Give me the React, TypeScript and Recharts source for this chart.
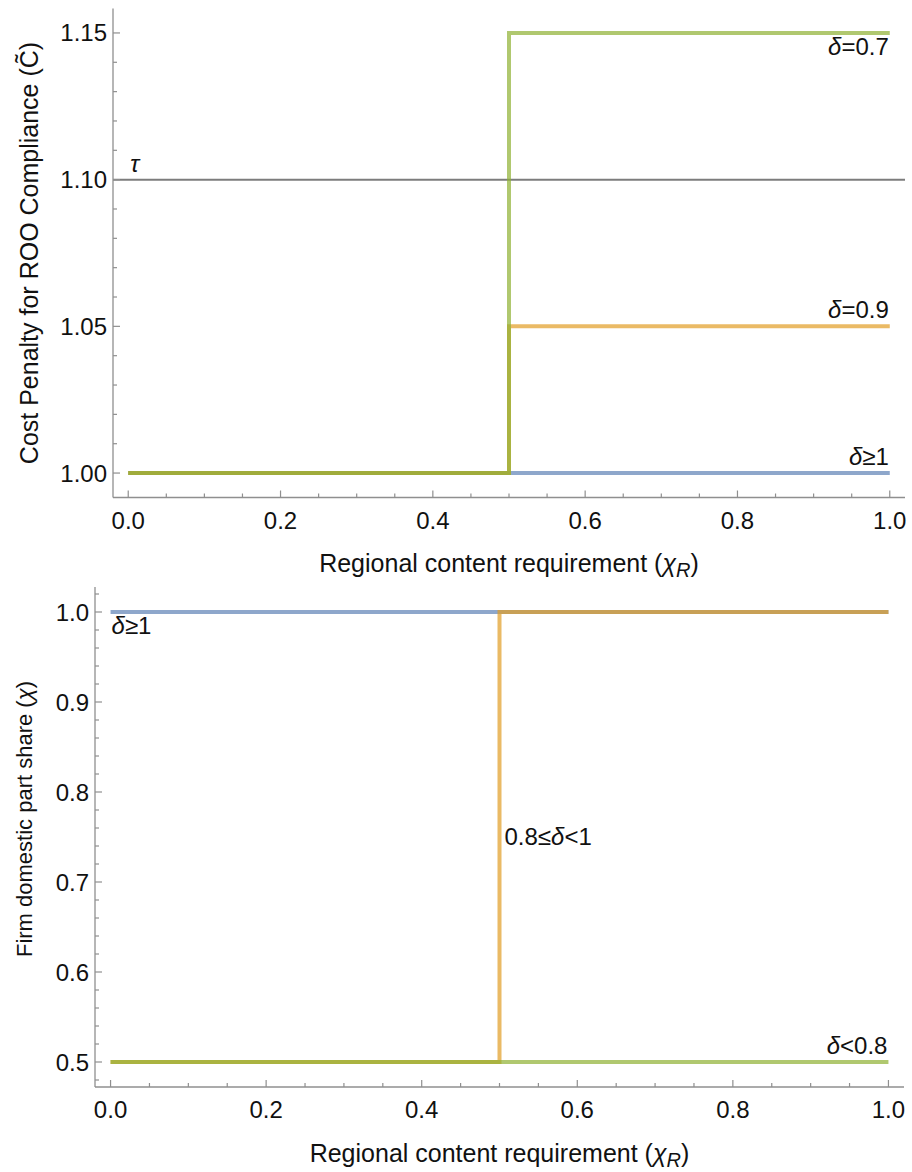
import React from 'react';
import { LineChart, Line, XAxis, YAxis, ReferenceLine, ReferenceDot, Label } from 'recharts';

const FONT = '"Liberation Sans", Arial, Helvetica, sans-serif';

// x values of the step paths (regional content requirement chi_R)
const chiR = [0, 0.5, 0.5, 1];

// Panel 1: cost penalty for ROO compliance
const costDeltaGe1 = [1, 1, 1, 1];
const costDelta09 = [1, 1, 1.05, 1.05];
const costDelta07 = [1, 1, 1.15, 1.15];
const tauValue = 1.1;

// Panel 2: firm domestic part share
const shareDeltaGe1 = [1, 1, 1, 1];
const shareDelta08to1 = [0.5, 0.5, 1, 1];
const shareDeltaLt08 = [0.5, 0.5, 0.5, 0.5];

// ticks
const xTicks = [0, 0.05, 0.1, 0.15, 0.2, 0.25, 0.3, 0.35, 0.4, 0.45, 0.5, 0.55, 0.6, 0.65, 0.7, 0.75, 0.8, 0.85, 0.9, 0.95, 1];
const xTickLabels = [0, 0.2, 0.4, 0.6, 0.8, 1];
const costYTicks = [1, 1.01, 1.02, 1.03, 1.04, 1.05, 1.06, 1.07, 1.08, 1.09, 1.1, 1.11, 1.12, 1.13, 1.14, 1.15];
const costYTickLabels = [1, 1.05, 1.1, 1.15];
const shareYTicks = [0.48, 0.5, 0.52, 0.54, 0.56, 0.58, 0.6, 0.62, 0.64, 0.66, 0.68, 0.7, 0.72, 0.74, 0.76, 0.78, 0.8, 0.82, 0.84, 0.86, 0.88, 0.9, 0.92, 0.94, 0.96, 0.98, 1, 1.02];
const shareYTickLabels = [0.5, 0.6, 0.7, 0.8, 0.9, 1];

const BLUE = '#5E81B5';
const ORANGE = '#E19C24';
const GREEN = '#8FB032';
const FRAME = '#8f8f8f';
const TICK_FS = 24;
const LABEL_FS = 24;
const TITLE_FS = 25;

const pts = (ys: number[]) => ys.map((y, i) => ({ x: chiR[i], y }));

const isMajor = (labels: number[], v: number) => labels.some((l) => Math.abs(l - v) < 1e-9);

const makeTick = (orient: 'bottom' | 'top' | 'left' | 'right', labels: number[], digits: number) => (props: any) => {
  const { x, y, payload } = props;
  const v = payload.value;
  const major = isMajor(labels, v);
  const len = major ? 7 : 4;
  let line;
  let label = null;
  if (orient === 'bottom') {
    line = <line x1={x} y1={y} x2={x} y2={y - len} stroke={FRAME} strokeWidth={1.2} />;
    if (major)
      label = (
        <text x={x} y={y + 31} textAnchor="middle" fontFamily={FONT} fontSize={TICK_FS} fill="#111">
          {v.toFixed(digits)}
        </text>
      );
  } else if (orient === 'top') {
    line = <line x1={x} y1={y} x2={x} y2={y + len} stroke={FRAME} strokeWidth={1.2} />;
  } else if (orient === 'left') {
    line = <line x1={x} y1={y} x2={x + len} y2={y} stroke={FRAME} strokeWidth={1.2} />;
    if (major)
      label = (
        <text x={x - 6} y={y + 8.5} textAnchor="end" fontFamily={FONT} fontSize={TICK_FS} fill="#111">
          {v.toFixed(digits)}
        </text>
      );
  } else {
    line = <line x1={x} y1={y} x2={x - len} y2={y} stroke={FRAME} strokeWidth={1.2} />;
  }
  return (
    <g>
      {line}
      {label}
    </g>
  );
};

const textAt = (content: React.ReactNode, dx: number, dy: number, anchor: 'start' | 'end' | 'middle') => (p: any) => (
  <text x={p.cx + dx} y={p.cy + dy} textAnchor={anchor} fontFamily={FONT} fontSize={LABEL_FS} fill="#111">
    {content}
  </text>
);

const d = <tspan fontStyle="italic">δ</tspan>;

const lineProps = {
  dataKey: 'y',
  xAxisId: 'b',
  yAxisId: 'l',
  type: 'linear' as const,
  strokeWidth: 4,
  strokeOpacity: 0.7,
  dot: false,
  activeDot: false,
  isAnimationActive: false,
};

const xTitle = (baselineY: number, centerX: number) => () => (
  <text x={centerX} y={baselineY} textAnchor="middle" fontFamily={FONT} fontSize={TITLE_FS} fill="#111">
    Regional content requirement (<tspan fontStyle="italic">χ</tspan>
    <tspan fontStyle="italic" fontSize={20} dy={5}>R</tspan>
    <tspan dy={-5}>)</tspan>
  </text>
);

const yTitle = (content: React.ReactNode, baselineX: number, centerY: number, fs: number) => () => (
  <text
    x={baselineX}
    y={centerY}
    transform={`rotate(-90 ${baselineX} ${centerY})`}
    textAnchor="middle"
    fontFamily={FONT}
    fontSize={fs}
    fill="#111"
  >
    {content}
  </text>
);

const axisCommon = {
  type: 'number' as const,
  allowDataOverflow: true,
  interval: 0 as const,
  tickSize: 0,
  tickMargin: 0,
  tickLine: false,
  axisLine: { stroke: FRAME, strokeWidth: 1.3 },
};

function CostChart() {
  // plot area: left 113, right 905, top 8.5, bottom 497.5
  return (
    <LineChart width={912} height={580} margin={{ top: 8.5, right: 7, bottom: 0, left: 0 }}>
      <XAxis {...axisCommon} xAxisId="b" dataKey="x" orientation="bottom" height={82.5} domain={[-0.02, 1.02]} ticks={xTicks} tick={makeTick('bottom', xTickLabels, 1)}>
        <Label content={xTitle(572, 509)} />
      </XAxis>
      <XAxis {...axisCommon} xAxisId="t" dataKey="x" orientation="top" height={0} domain={[-0.02, 1.02]} ticks={xTicks} tick={makeTick('top', xTickLabels, 1)} />
      <YAxis {...axisCommon} yAxisId="l" orientation="left" width={113} domain={[1 - 0.15 / 18, 1.15 + 0.15 / 18]} ticks={costYTicks} tick={makeTick('left', costYTickLabels, 2)}>
        <Label content={yTitle(<>Cost Penalty for ROO Compliance (C{'\u0303'})</>, 37.5, 253, 25)} />
      </YAxis>
      <YAxis {...axisCommon} yAxisId="r" orientation="right" width={0} domain={[1 - 0.15 / 18, 1.15 + 0.15 / 18]} ticks={costYTicks} tick={makeTick('right', costYTickLabels, 2)} />
      <ReferenceLine xAxisId="b" yAxisId="l" y={tauValue} stroke="#7c7c7c" strokeWidth={2} />
      <Line {...lineProps} data={pts(costDeltaGe1)} stroke={BLUE} />
      <Line {...lineProps} data={pts(costDelta09)} stroke={ORANGE} />
      <Line {...lineProps} data={pts(costDelta07)} stroke={GREEN} />
      <ReferenceDot xAxisId="b" yAxisId="l" x={0} y={tauValue} r={0} shape={textAt(<tspan fontStyle="italic">τ</tspan>, 2, -8, 'start')} />
      <ReferenceDot xAxisId="b" yAxisId="l" x={1} y={costDelta07[3]} r={0} shape={textAt(<>{d}=0.7</>, -1, 22, 'end')} />
      <ReferenceDot xAxisId="b" yAxisId="l" x={1} y={costDelta09[3]} r={0} shape={textAt(<>{d}=0.9</>, -1, -8, 'end')} />
      <ReferenceDot xAxisId="b" yAxisId="l" x={1} y={costDeltaGe1[3]} r={0} shape={textAt(<>{d}≥1</>, -1, -8, 'end')} />
    </LineChart>
  );
}

function ShareChart() {
  // plot area (relative): left 95, right 904, top 7, bottom 507
  return (
    <LineChart width={912} height={592} margin={{ top: 7, right: 8, bottom: 0, left: 0 }}>
      <XAxis {...axisCommon} xAxisId="b" dataKey="x" orientation="bottom" height={85} domain={[-0.02, 1.02]} ticks={xTicks} tick={makeTick('bottom', xTickLabels, 1)}>
        <Label content={xTitle(582, 499.5)} />
      </XAxis>
      <XAxis {...axisCommon} xAxisId="t" dataKey="x" orientation="top" height={0} domain={[-0.02, 1.02]} ticks={xTicks} tick={makeTick('top', xTickLabels, 1)} />
      <YAxis {...axisCommon} yAxisId="l" orientation="left" width={95} domain={[0.5 - 0.5 / 18, 1 + 0.5 / 18]} ticks={shareYTicks} tick={makeTick('left', shareYTickLabels, 1)}>
        <Label content={yTitle(<>Firm domestic part share (<tspan fontStyle="italic">χ</tspan>)</>, 32, 239, 22)} />
      </YAxis>
      <YAxis {...axisCommon} yAxisId="r" orientation="right" width={0} domain={[0.5 - 0.5 / 18, 1 + 0.5 / 18]} ticks={shareYTicks} tick={makeTick('right', shareYTickLabels, 1)} />
      <Line {...lineProps} data={pts(shareDeltaGe1)} stroke={BLUE} />
      <Line {...lineProps} data={pts(shareDelta08to1)} stroke={ORANGE} />
      <Line {...lineProps} data={pts(shareDeltaLt08)} stroke={GREEN} />
      <ReferenceDot xAxisId="b" yAxisId="l" x={0} y={shareDeltaGe1[0]} r={0} shape={textAt(<>{d}≥1</>, 1, 22, 'start')} />
      <ReferenceDot xAxisId="b" yAxisId="l" x={0.5} y={(shareDelta08to1[1] + shareDelta08to1[2]) / 2} r={0} shape={textAt(<>0.8≤{d}&lt;1</>, 5, 8, 'start')} />
      <ReferenceDot xAxisId="b" yAxisId="l" x={1} y={shareDeltaLt08[3]} r={0} shape={textAt(<>{d}&lt;0.8</>, -1, -8, 'end')} />
    </LineChart>
  );
}

export default function App() {
  return (
    <div style={{ position: 'absolute', left: 0, top: 0, width: 912, height: 1172, background: '#fff' }}>
      <div style={{ position: 'absolute', left: 0, top: 0 }}>
        <CostChart />
      </div>
      <div style={{ position: 'absolute', left: 0, top: 580 }}>
        <ShareChart />
      </div>
    </div>
  );
}
